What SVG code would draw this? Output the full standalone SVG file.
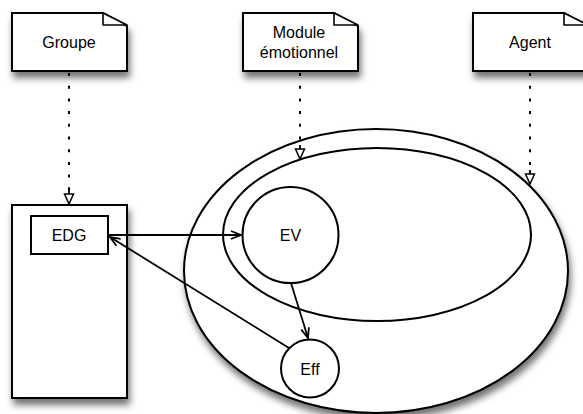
<svg xmlns="http://www.w3.org/2000/svg" width="583" height="414" viewBox="0 0 583 414">
  <style>
    .shape { fill: #fff; stroke: #000; stroke-width: 2; }
    .line { fill: none; stroke: #000; stroke-width: 1.8; }
    .dot { fill: none; stroke: #000; stroke-width: 2; stroke-dasharray: 3 9.7; }
    .fold { fill: #fff; stroke: #000; stroke-width: 1.6; stroke-linejoin: round; }
    text { font-family: "Liberation Sans", Arial, sans-serif; font-size: 16px; text-anchor: middle; fill: #000; }
  </style>
  <defs>
    <!-- soft drop shadow under the framed shapes -->
    <filter id="shadow" x="-20%" y="-20%" width="140%" height="150%">
      <feDropShadow dx="2" dy="6" stdDeviation="3.5" flood-color="#000" flood-opacity="0.55"/>
    </filter>
    <marker id="open" viewBox="0 0 12 10" refX="11" refY="5" markerWidth="12" markerHeight="10" markerUnits="userSpaceOnUse" orient="auto">
      <path d="M1,1 L11,5 L1,9" fill="none" stroke="#000" stroke-width="1.8"/>
    </marker>
    <marker id="tri" viewBox="0 0 12 12" refX="11" refY="6" markerWidth="12" markerHeight="12" markerUnits="userSpaceOnUse" orient="auto">
      <path d="M1,1.5 L11,6 L1,10.5 Z" fill="#fff" stroke="#000" stroke-width="1.5"/>
    </marker>
  </defs>

  <!-- notes -->
  <g id="groupe">
    <path class="shape" filter="url(#shadow)" d="M12,13 H103 L127,26 V71 H12 Z"/>
    <path class="fold" d="M103,13 V25 H127 Z"/>
    <text x="69" y="48">Groupe</text>
  </g>
  <g id="module">
    <path class="shape" filter="url(#shadow)" d="M243,13 H334 L358,26 V71 H243 Z"/>
    <path class="fold" d="M334,13 V25 H358 Z"/>
    <text x="299" y="38">Module</text>
    <text x="299" y="58">émotionnel</text>
  </g>
  <g id="agent">
    <path class="shape" filter="url(#shadow)" d="M473,13 H564 L588,26 V71 H473 Z"/>
    <path class="fold" d="M564,13 V25 H588 Z"/>
    <text x="530" y="48">Agent</text>
  </g>

  <!-- groupe container -->
  <g id="groupe-box">
    <rect class="shape" filter="url(#shadow)" x="12" y="205" width="115" height="193"/>
  </g>
  <g id="edg">
    <rect class="shape" x="31" y="216" width="77" height="38"/>
    <text x="69" y="241">EDG</text>
  </g>

  <!-- agent and emotional module -->
  <g id="agent-area">
    <ellipse class="shape" filter="url(#shadow)" cx="376" cy="271" rx="192" ry="142"/>
  </g>
  <g id="module-area">
    <ellipse class="shape" cx="377" cy="234.5" rx="154" ry="86.5"/>
  </g>
  <g id="ev">
    <circle class="shape" cx="290.5" cy="235" r="48"/>
    <text x="290.5" y="241">EV</text>
  </g>
  <g id="eff">
    <circle class="shape" cx="310" cy="368.5" r="29"/>
    <text x="310" y="375">Eff</text>
  </g>

  <!-- connectors -->
  <g id="connectors">
    <line class="dot" x1="69" y1="73" x2="69" y2="192"/>
    <line class="line" x1="69" y1="190" x2="69" y2="204" stroke-width="0" marker-end="url(#tri)"/>
    <line class="dot" x1="300" y1="73" x2="300" y2="147"/>
    <line class="line" x1="300" y1="145" x2="300" y2="159" stroke-width="0" marker-end="url(#tri)"/>
    <line class="dot" x1="530" y1="73" x2="530" y2="170"/>
    <line class="line" x1="530" y1="170" x2="530" y2="184" stroke-width="0" marker-end="url(#tri)"/>
    <line class="line" x1="108" y1="235" x2="241" y2="235" marker-end="url(#open)"/>
    <line class="line" x1="289" y1="348" x2="110" y2="237" marker-end="url(#open)"/>
    <line class="line" x1="291" y1="283" x2="308" y2="338" marker-end="url(#open)"/>
  </g>
</svg>
